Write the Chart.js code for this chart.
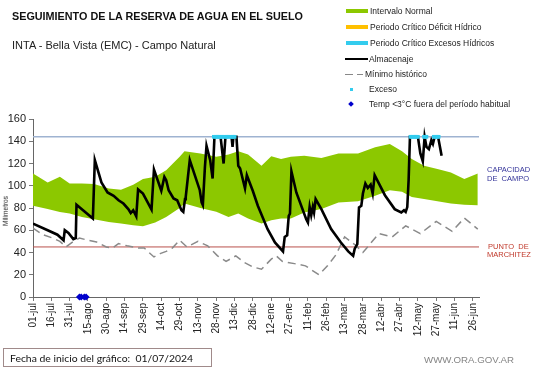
<!DOCTYPE html>
<html>
<head>
<meta charset="utf-8">
<script src="https://cdn.jsdelivr.net/npm/chart.js@4.4.0/dist/chart.umd.min.js"></script>
<style>
  body { margin: 0; background: #fff; }
  #wrap { position: relative; width: 541px; height: 368px; overflow: hidden; background: #fff; font-family: Arial, "Liberation Sans", sans-serif; }
  #wrap canvas { position: absolute; left: 0; top: 0; }
  .txt { position: absolute; white-space: nowrap; line-height: 1; transform: translateY(-50%); }
  .sw { position: absolute; }
</style>
</head>
<body>
<div id="wrap">
  <canvas id="reserva" width="541" height="368"></canvas>

  <div class="txt" style="left:12px; top:16px; font-size:10.8px; font-weight:bold; color:#111;">SEGUIMIENTO DE LA RESERVA DE AGUA EN EL SUELO</div>
  <div class="txt" style="left:12px; top:45px; font-size:11px; color:#222;">INTA - Bella Vista (EMC) - Campo Natural</div>

  <!-- leyenda -->
  <div class="sw" style="left:346px; top:9px; width:22px; height:3.5px; background:#8cc800;"></div>
  <div class="txt" style="left:370px; top:11px; font-size:8.5px; color:#222;">Intervalo Normal</div>
  <div class="sw" style="left:346px; top:25px; width:22px; height:3.5px; background:#ffc000;"></div>
  <div class="txt" style="left:370px; top:27px; font-size:8.5px; color:#222;">Periodo Crítico Déficit Hídrico</div>
  <div class="sw" style="left:346px; top:41px; width:22px; height:3.5px; background:#33ccee;"></div>
  <div class="txt" style="left:370px; top:43px; font-size:8.5px; color:#222;">Periodo Crítico Excesos Hídricos</div>
  <div class="sw" style="left:345px; top:58px; width:23px; height:2px; background:#000;"></div>
  <div class="txt" style="left:369px; top:59px; font-size:8.5px; color:#222;">Almacenaje</div>
  <div class="sw" style="left:345px; top:73.5px; width:8px; height:1.5px; background:#888;"></div>
  <div class="sw" style="left:357px; top:73.5px; width:6px; height:1.5px; background:#888;"></div>
  <div class="txt" style="left:365px; top:74px; font-size:8.5px; color:#222;">Mínimo histórico</div>
  <div class="sw" style="left:349.5px; top:88px; width:3px; height:3px; background:#33ccee;"></div>
  <div class="txt" style="left:369px; top:89px; font-size:8.5px; color:#222;">Exceso</div>
  <div class="sw" style="left:349px; top:102px; width:4px; height:4px; background:#0000cc; transform:rotate(45deg);"></div>
  <div class="txt" style="left:369px; top:104px; font-size:8.5px; color:#222;">Temp &lt;3°C fuera del período habitual</div>

  <!-- eje y -->
  <div class="txt" style="left:6px; top:211px; font-size:6.5px; color:#222; transform:translate(-50%,-50%) rotate(-90deg);">Milímetros</div>

  <!-- rotulos derecha -->
  <div class="txt" style="left:487px; top:170px; font-size:7.5px; color:#333399;">CAPACIDAD</div>
  <div class="txt" style="left:487px; top:178.5px; font-size:7.5px; color:#333399;">DE&nbsp; CAMPO</div>
  <div class="txt" style="left:488px; top:246.5px; font-size:7.5px; color:#c0392b;">PUNTO&nbsp; DE</div>
  <div class="txt" style="left:487px; top:255px; font-size:7.5px; color:#c0392b;">MARCHITEZ</div>

  <!-- pie -->
  <div style="position:absolute; left:3px; top:348px; width:209px; height:19px; box-sizing:border-box; border:1px solid #a08a8a;"></div>
  <div class="txt" style="left:10px; top:357.5px; font-size:10.4px; font-family:Lato, 'Open Sans', sans-serif; color:#111;">Fecha de inicio del gráfico:&nbsp; 01/07/2024</div>
  <div class="txt" style="left:424px; top:360px; font-size:9.7px; color:#858585;">WWW.ORA.GOV.AR</div>
</div>

<script>
// etiquetas del eje x (cada 15 dias desde 01/07/2024)
var tickLabels = ['01-jul','16-jul','31-jul','15-ago','30-ago','14-sep','29-sep','14-oct','29-oct','13-nov','28-nov','13-dic','28-dic','12-ene','27-ene','11-feb','26-feb','13-mar','28-mar','12-abr','27-abr','12-may','27-may','11-jun','26-jun'];

// intervalo normal (banda verde)
var bandDays  = [0, 12, 22, 30, 40, 50, 62, 72, 82, 90, 100, 109, 120, 124, 137, 150, 160, 168, 176, 187, 195, 203, 211, 222, 236, 250, 266, 280, 292, 302, 310, 320, 331, 342, 353, 364];
var bandUpper = [111, 103, 108, 102, 102, 101.5, 97.5, 96.5, 101, 106, 108, 114, 126, 131, 129, 126, 128, 131, 128, 118, 126.5, 124, 126, 127, 125, 129, 129, 134.5, 137.5, 131, 124, 118, 115, 112, 106, 111];
var bandLower = [82, 79, 76.5, 75, 72, 70, 67.5, 66, 64.5, 63.5, 67, 72, 80, 84, 80, 76.6, 72, 75, 70.5, 66, 69, 70.5, 70.5, 76, 79, 85, 86, 91, 96, 94.5, 90, 88, 86, 84, 83, 82.5];

// almacenaje
var storageDays = [0, 12, 20, 25, 26, 29, 33, 35, 35.6, 49, 50.6, 56, 61, 66, 70, 74, 78, 80, 82, 84.5, 86, 90, 97, 99, 105, 107.5, 109, 111, 115, 118, 121.5, 123, 124.4, 125, 128.3, 136.5, 138, 139, 140.7, 142, 145, 147, 148.5, 153.5, 156, 157.5, 162.5, 163.3, 164, 166.5, 168, 169.5, 173.5, 175, 180, 184, 192, 198, 204.6, 206, 208, 209.3, 210.3, 211.5, 215.5, 223.6, 225, 226.4, 227.7, 229, 230, 231.3, 236, 244, 252, 258, 262, 263.3, 265.4, 266.8, 268.7, 270, 272, 274, 276.3, 278, 279.6, 288, 296, 301.4, 303.6, 305, 306.3, 307.4, 308.5, 315, 317, 319, 320.5, 322, 324, 326, 327.3, 328.7, 331.5, 334.4];
var storageValues = [66, 60, 56, 51, 60, 57.5, 52, 53, 83, 70.5, 123, 103, 94, 91, 87, 84, 79, 75.5, 78, 72.5, 96.7, 93, 78.5, 114.6, 95.5, 108, 105, 96, 88.6, 87, 78, 76.5, 88, 90, 123, 96, 85, 82.6, 117, 136, 123, 106.5, 144, 144, 120, 144, 144, 135, 144, 144, 118, 115.5, 97.6, 109.5, 95, 82, 61, 49, 41, 54, 55.5, 73, 75, 113, 94, 70, 67, 81, 73.5, 81, 76, 88, 79, 61, 49, 41, 37, 43.5, 47.5, 80.5, 82, 93, 102, 98, 101, 93, 109.5, 91.5, 79, 76, 78, 76.5, 80.8, 105, 144, 144, 129, 122, 144, 135, 133, 141, 137.6, 144, 144, 127];

// minimo historico
var minDays   = [0, 8, 16, 22, 27, 33, 38, 45, 52, 60, 65, 70, 77, 86, 91, 99, 104, 109, 114, 120, 126, 135, 143, 151, 158, 166, 173, 180, 187, 195, 199, 204, 214, 223, 234, 241, 248, 255, 264, 270, 283, 294, 305, 317, 330, 343, 353, 364];
var minValues = [62, 56, 53, 50, 45, 50, 53, 51, 49.5, 45, 44, 48, 46, 44, 44, 36, 39, 41, 44, 51, 45, 50, 46, 37, 32, 37, 31, 27, 25, 34, 37, 32, 30, 28, 20, 28, 38, 54, 46.5, 40, 57, 54, 64, 57, 68, 59, 71, 61];

// dias con exceso y dias con temp < 3 C
var excesoDays = [148, 149, 150, 151, 152, 153, 154, 155, 157, 158, 159, 160, 162, 163, 164, 165, 309, 310, 311, 312, 313, 314, 315, 320, 321, 322, 328, 329, 330, 331, 332];
var tempDays = [38, 39.5, 42, 43.5];

var capacidadCampo = 144;
var puntoMarchitez = 45;
var lastDay = 365;

function toPoints(days, values) {
    var pts = [];
    for (var i = 0; i < days.length; i++) {
        pts.push({x: days[i], y: values[i]});
    }
    return pts;
}

function constPoints(days, value) {
    var pts = [];
    for (var i = 0; i < days.length; i++) {
        pts.push({x: days[i], y: value});
    }
    return pts;
}

var context = document.getElementById('reserva').getContext('2d');
var chart = new Chart(context, {
    type: 'line',
    data: {
        datasets: [
            {   // 0 banda superior, rellena hasta la inferior
                data: toPoints(bandDays, bandUpper),
                borderWidth: 0,
                pointRadius: 0,
                backgroundColor: '#8cc800',
                fill: '+1',
                order: 7
            },
            {   // 1 banda inferior
                data: toPoints(bandDays, bandLower),
                borderWidth: 0,
                pointRadius: 0,
                fill: false,
                order: 6
            },
            {
                data: constPoints([0, lastDay], capacidadCampo),
                borderColor: '#9fb3d1',
                borderWidth: 1.5,
                pointRadius: 0,
                order: 5
            },
            {
                data: constPoints([0, lastDay], puntoMarchitez),
                borderColor: '#b9504c',
                borderWidth: 1,
                pointRadius: 0,
                order: 5
            },
            {
                data: toPoints(minDays, minValues),
                borderColor: '#8a8a8a',
                borderWidth: 1.5,
                borderDash: [8, 5],
                pointRadius: 0,
                order: 4
            },
            {
                data: toPoints(storageDays, storageValues),
                borderColor: '#000',
                borderWidth: 2.6,
                pointRadius: 0,
                order: 3
            },
            {
                data: constPoints(excesoDays, capacidadCampo),
                showLine: false,
                pointStyle: 'rect',
                pointRadius: 2.6,
                pointBorderWidth: 0,
                pointBackgroundColor: '#33ccee',
                order: 2
            },
            {
                data: constPoints(tempDays, 0),
                showLine: false,
                pointStyle: 'rectRot',
                pointRadius: 3.5,
                pointBorderWidth: 0,
                pointBackgroundColor: '#0000cc',
                clip: false,
                order: 1
            }
        ]
    },
    options: {
        responsive: false,
        animation: false,
        layout: {
            padding: {left: 0, right: 62, top: 119, bottom: 0}
        },
        plugins: {
            legend: {display: false},
            tooltip: {enabled: false}
        },
        elements: {
            line: {tension: 0}
        },
        scales: {
            x: {
                type: 'linear',
                min: 0,
                max: lastDay,
                afterBuildTicks: function(scale) {
                    // un tick cada 15 dias, uno por etiqueta
                    scale.ticks = tickLabels.map(function(l, i) { return {value: i * 15}; });
                },
                afterFit: function(scale) { scale.height = 71; },
                ticks: {
                    autoSkip: false,
                    maxRotation: 90,
                    minRotation: 90,
                    padding: 2,
                    color: '#222',
                    font: {family: 'Arial', size: 10},
                    callback: function(value) { return tickLabels[value / 15]; }
                },
                grid: {drawOnChartArea: false, tickLength: 4, color: '#777'},
                border: {color: '#666'}
            },
            y: {
                min: 0,
                max: 160,
                afterFit: function(scale) { scale.width = 33; },
                ticks: {
                    stepSize: 20,
                    padding: 3,
                    color: '#222',
                    font: {family: 'Arial', size: 11}
                },
                grid: {drawOnChartArea: false, tickLength: 4, color: '#777'},
                border: {color: '#666'}
            }
        }
    }
});
</script>
</body>
</html>
